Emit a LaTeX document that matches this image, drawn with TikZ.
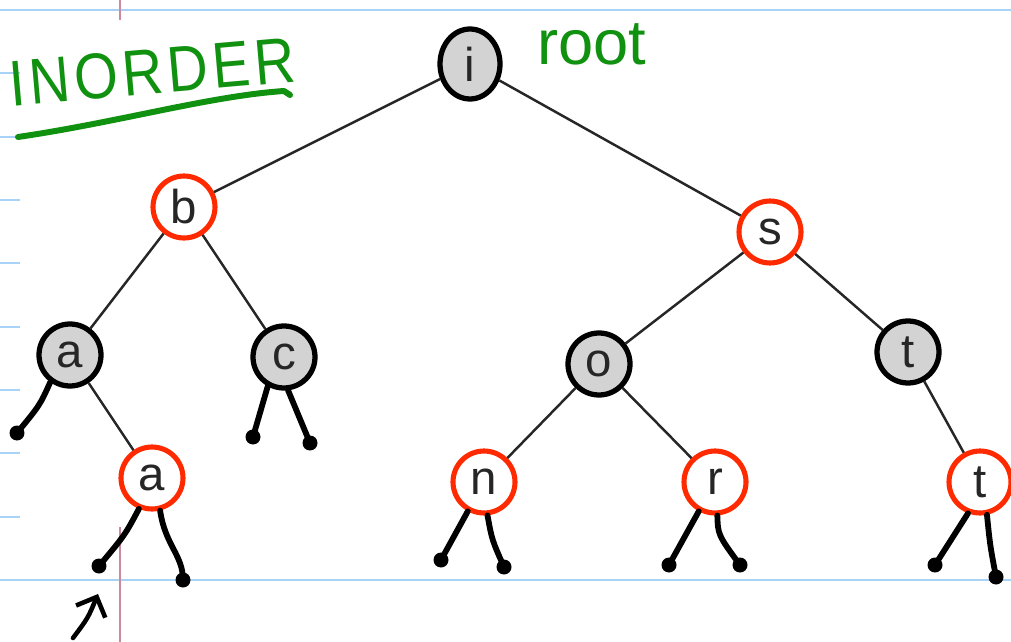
\documentclass[tikz,border=0pt]{standalone}
\usepackage{fontspec}
\setmainfont{Liberation Sans}
\newfontfamily\handfont[LetterSpace=8]{Liberation Sans}
\usetikzlibrary{shapes.geometric,arrows.meta}
\definecolor{rulecol}{RGB}{168,211,247}
\definecolor{margincol}{RGB}{201,138,155}
\definecolor{inkgreen}{RGB}{16,145,16}
\definecolor{hotred}{RGB}{255,42,0}
\definecolor{keygray}{RGB}{211,211,211}
\tikzset{
  keynode/.style={circle, inner sep=0pt, minimum size=1.24cm,
    font=\fontsize{27}{27}\selectfont, text=black!85},
  graykey/.style={keynode, draw=black, line width=3pt, fill=keygray},
  redkey/.style={keynode, draw=hotred, line width=2.9pt, fill=white},
  treeedge/.style={line width=1.4pt, black!85},
  nilpen/.style={line width=3.3pt, line cap=round, black},
  rulepen/.style={line width=1.2pt, rulecol},
  greenpen/.style={line width=3.4pt, line cap=round, line join=round, inkgreen},
}
\newcommand{\nildot}[1]{\fill[black] (#1) circle (0.15cm);}
\begin{document}
\begin{tikzpicture}[x=0.02cm, y=-0.02cm]
  \useasboundingbox (0,0) rectangle (1011,642);
  \fill[white] (0,0) rectangle (1011,642);

  % notebook ruling
  \draw[rulepen] (0,10) -- (1011,10);
  \draw[rulepen] (0,580) -- (1011,580);
  \foreach \yy in {73,137,200,263,327,390,453,517}
    \draw[rulepen] (0,\yy) -- (20,\yy);
  \draw[line width=0.9pt, margincol] (120,0) -- (120,20);
  \draw[line width=0.9pt, margincol] (120,527) -- (120,642);

  % heading and label
  \node[inkgreen, rotate=5, yscale=1.15, font=\handfont\fontsize{32}{32}\selectfont]
    (title) at (152,72) {INORDER};
  \draw[greenpen] (18,137) .. controls (120,122) and (210,96) .. (284,91)
    -- (290,95);
  \node[inkgreen, font=\fontsize{36}{36}\selectfont] (rootlbl) at (592,44) {root};

  % keys
  \node[graykey, shape=ellipse, minimum width=1.2cm, minimum height=1.4cm]
    (i) at (470,64) {i};
  \node[redkey]  (b)  at (184,207) {b};
  \node[redkey]  (s)  at (770,232) {s};
  \node[graykey] (a1) at (70,355)  {a};
  \node[graykey] (c)  at (284,357) {c};
  \node[redkey]  (a2) at (152,478) {a};
  \node[graykey] (o)  at (599,364) {o};
  \node[graykey] (t1) at (908,352) {t};
  \node[redkey]  (n)  at (484,482) {n};
  \node[redkey]  (r)  at (715,482) {r};
  \node[redkey]  (t2) at (980,482) {t};

  % tree links
  \draw[treeedge] (i) -- (b);
  \draw[treeedge] (i) -- (s);
  \draw[treeedge] (b) -- (a1);
  \draw[treeedge] (b) -- (c);
  \draw[treeedge] (a1) -- (a2);
  \draw[treeedge] (s) -- (o);
  \draw[treeedge] (s) -- (t1);
  \draw[treeedge] (o) -- (n);
  \draw[treeedge] (o) -- (r);
  \draw[treeedge] (t1) -- (t2);

  % null links
  \coordinate (a1L) at (17,433);
  \coordinate (cL)  at (253,437);
  \coordinate (cR)  at (310,443);
  \coordinate (a2L) at (99,566);
  \coordinate (a2R) at (183,580);
  \coordinate (nL)  at (441,560);
  \coordinate (nR)  at (504,567);
  \coordinate (rL)  at (669,565);
  \coordinate (rR)  at (740,565);
  \coordinate (t2L) at (935,565);
  \coordinate (t2R) at (996,577);

  \draw[nilpen] (a1.234) .. controls (40,405) .. (a1L);
  \draw[nilpen] (c.241) -- (cL);
  \draw[nilpen] (c.277) -- (cR);
  \draw[nilpen] (a2.247) .. controls (125,535) .. (a2L);
  \draw[nilpen] (a2.284) .. controls (165,545) and (183,555) .. (a2R);
  \draw[nilpen] (n.241) -- (nL);
  \draw[nilpen] (n.276) .. controls (492,540) .. (nR);
  \draw[nilpen] (r.241) -- (rL);
  \draw[nilpen] (r.274) .. controls (718,535) .. (rR);
  \draw[nilpen] (t2.249) -- (t2L);
  \draw[nilpen] (t2.282) .. controls (990,545) .. (t2R);
  \foreach \p in {a1L,cL,cR,a2L,a2R,nL,nR,rL,rR,t2L,t2R} { \nildot{\p} }

  % pointer to the first null link
  \coordinate (ptr) at (73,638);
  \draw[line width=2.6pt, line cap=round, black,
        -{Straight Barb[length=9pt, width=18pt, line width=2.6pt]}]
    (ptr) .. controls (88,618) .. (98,594);
\end{tikzpicture}
\end{document}
